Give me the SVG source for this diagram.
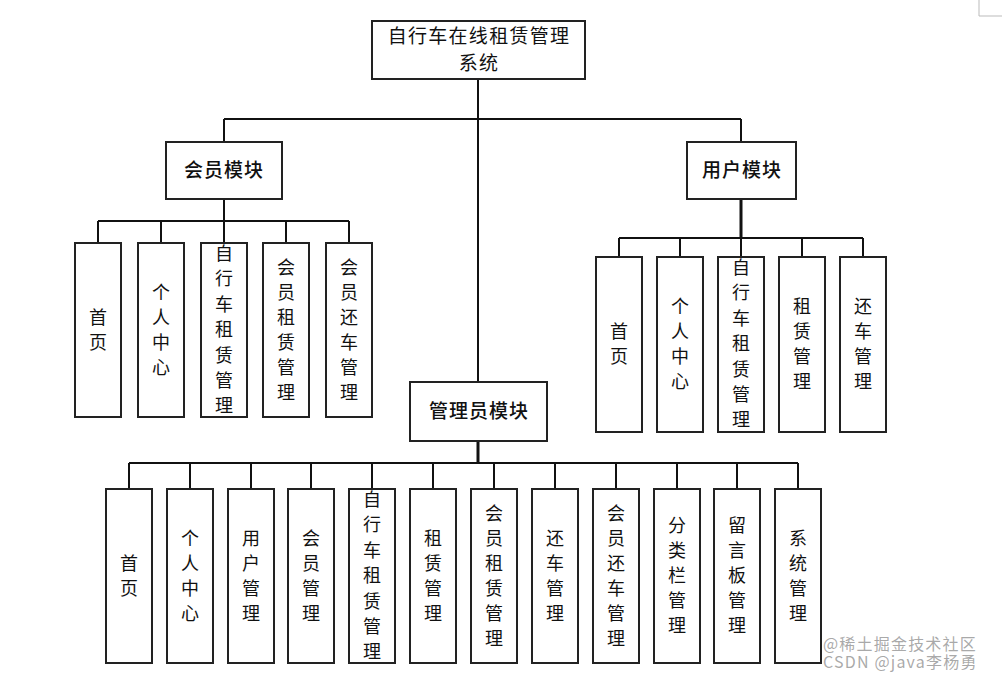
<svg xmlns="http://www.w3.org/2000/svg" width="1002" height="678" viewBox="0 0 1002 678">
<style>
.box{fill:#fff;stroke:#222;stroke-width:2}
.ln{fill:none;stroke:#111;stroke-width:2}
.thk{stroke-width:3}
text{font-family:"Noto Sans CJK SC","Noto Sans",sans-serif;fill:#111}
.t1{font-size:19px;letter-spacing:1.3px;text-anchor:middle}
.tm{font-size:19px;letter-spacing:1px;text-anchor:middle;font-weight:500}
.tc{font-size:18px;text-anchor:middle}
.wm{font-size:16px;letter-spacing:1.2px;fill:#9a9a9a;fill-opacity:0.85}
</style>
<rect width="1002" height="678" fill="#fff"/>
<path d="M979 0V16H1002" fill="none" stroke="#bbb" stroke-width="1"/>
<g id="connectors">
<path class="ln" d="M478 79V382"/>
<path class="ln" d="M224 119H741M224 119V142M741 119V142"/>
<path class="ln" d="M224 199V221M98 221H349M98 221V243M161 221V243M224 221V243M286 221V243M349 221V243"/>
<path class="ln thk" d="M741 199V238"/>
<path class="ln" d="M619 238H863M619 238V257M680 238V257M741 238V257M802 238V257M863 238V257"/>
<path class="ln thk" d="M478 441V463"/>
<path class="ln" d="M129 463H798M129 463V489M190 463V489M251 463V489M311 463V489M372 463V489M433 463V489M494 463V489M555 463V489M616 463V489M677 463V489M737 463V489M798 463V489"/>
</g>
<g id="root"><rect class="box" x="372" y="21" width="213" height="58"/>
<text class="t1" x="479" y="43">自行车在线租赁管理</text><text class="t1" x="479" y="70">系统</text></g>
<g id="member"><rect class="box" x="166" y="142" width="116" height="57"/><text class="tm" x="224" y="177">会员模块</text></g>
<g id="user"><rect class="box" x="687" y="142" width="109" height="57"/><text class="tm" x="742" y="177">用户模块</text></g>
<g id="admin"><rect class="box" x="410" y="382" width="137" height="59"/><text class="tm" x="479" y="418">管理员模块</text></g>

<g id="m1"><rect class="box" x="75" y="243" width="46" height="174"/><text class="tc" x="98"><tspan x="98" y="324">首</tspan><tspan x="98" y="349">页</tspan></text></g>
<g id="m2"><rect class="box" x="138" y="243" width="46" height="174"/><text class="tc"><tspan x="161" y="299">个</tspan><tspan x="161" y="324">人</tspan><tspan x="161" y="349">中</tspan><tspan x="161" y="374">心</tspan></text></g>
<g id="m3"><rect class="box" x="201" y="243" width="46" height="174"/><text class="tc"><tspan x="224" y="260">自</tspan><tspan x="224" y="285">行</tspan><tspan x="224" y="311">车</tspan><tspan x="224" y="336">租</tspan><tspan x="224" y="362">赁</tspan><tspan x="224" y="387">管</tspan><tspan x="224" y="412">理</tspan></text></g>
<g id="m4"><rect class="box" x="263" y="243" width="46" height="174"/><text class="tc"><tspan x="286" y="274">会</tspan><tspan x="286" y="299">员</tspan><tspan x="286" y="324">租</tspan><tspan x="286" y="349">赁</tspan><tspan x="286" y="374">管</tspan><tspan x="286" y="399">理</tspan></text></g>
<g id="m5"><rect class="box" x="326" y="243" width="46" height="174"/><text class="tc"><tspan x="349" y="274">会</tspan><tspan x="349" y="299">员</tspan><tspan x="349" y="324">还</tspan><tspan x="349" y="349">车</tspan><tspan x="349" y="374">管</tspan><tspan x="349" y="399">理</tspan></text></g>

<g id="u1"><rect class="box" x="596" y="257" width="46" height="175"/><text class="tc"><tspan x="619" y="338">首</tspan><tspan x="619" y="363">页</tspan></text></g>
<g id="u2"><rect class="box" x="657" y="257" width="46" height="175"/><text class="tc"><tspan x="680" y="313">个</tspan><tspan x="680" y="338">人</tspan><tspan x="680" y="363">中</tspan><tspan x="680" y="388">心</tspan></text></g>
<g id="u3"><rect class="box" x="718" y="257" width="46" height="175"/><text class="tc"><tspan x="741" y="274">自</tspan><tspan x="741" y="299">行</tspan><tspan x="741" y="325">车</tspan><tspan x="741" y="350">租</tspan><tspan x="741" y="376">赁</tspan><tspan x="741" y="401">管</tspan><tspan x="741" y="426">理</tspan></text></g>
<g id="u4"><rect class="box" x="779" y="257" width="46" height="175"/><text class="tc"><tspan x="802" y="313">租</tspan><tspan x="802" y="338">赁</tspan><tspan x="802" y="363">管</tspan><tspan x="802" y="388">理</tspan></text></g>
<g id="u5"><rect class="box" x="840" y="257" width="46" height="175"/><text class="tc"><tspan x="863" y="313">还</tspan><tspan x="863" y="338">车</tspan><tspan x="863" y="363">管</tspan><tspan x="863" y="388">理</tspan></text></g>

<g id="a1"><rect class="box" x="106" y="489" width="46" height="174"/><text class="tc"><tspan x="129" y="570">首</tspan><tspan x="129" y="595">页</tspan></text></g>
<g id="a2"><rect class="box" x="167" y="489" width="46" height="174"/><text class="tc"><tspan x="190" y="545">个</tspan><tspan x="190" y="570">人</tspan><tspan x="190" y="595">中</tspan><tspan x="190" y="620">心</tspan></text></g>
<g id="a3"><rect class="box" x="228" y="489" width="46" height="174"/><text class="tc"><tspan x="251" y="545">用</tspan><tspan x="251" y="570">户</tspan><tspan x="251" y="595">管</tspan><tspan x="251" y="620">理</tspan></text></g>
<g id="a4"><rect class="box" x="288" y="489" width="46" height="174"/><text class="tc"><tspan x="311" y="545">会</tspan><tspan x="311" y="570">员</tspan><tspan x="311" y="595">管</tspan><tspan x="311" y="620">理</tspan></text></g>
<g id="a5"><rect class="box" x="349" y="489" width="46" height="174"/><text class="tc"><tspan x="372" y="506">自</tspan><tspan x="372" y="531">行</tspan><tspan x="372" y="557">车</tspan><tspan x="372" y="582">租</tspan><tspan x="372" y="608">赁</tspan><tspan x="372" y="633">管</tspan><tspan x="372" y="658">理</tspan></text></g>
<g id="a6"><rect class="box" x="410" y="489" width="46" height="174"/><text class="tc"><tspan x="433" y="545">租</tspan><tspan x="433" y="570">赁</tspan><tspan x="433" y="595">管</tspan><tspan x="433" y="620">理</tspan></text></g>
<g id="a7"><rect class="box" x="471" y="489" width="46" height="174"/><text class="tc"><tspan x="494" y="520">会</tspan><tspan x="494" y="545">员</tspan><tspan x="494" y="570">租</tspan><tspan x="494" y="595">赁</tspan><tspan x="494" y="620">管</tspan><tspan x="494" y="645">理</tspan></text></g>
<g id="a8"><rect class="box" x="532" y="489" width="46" height="174"/><text class="tc"><tspan x="555" y="545">还</tspan><tspan x="555" y="570">车</tspan><tspan x="555" y="595">管</tspan><tspan x="555" y="620">理</tspan></text></g>
<g id="a9"><rect class="box" x="593" y="489" width="46" height="174"/><text class="tc"><tspan x="616" y="520">会</tspan><tspan x="616" y="545">员</tspan><tspan x="616" y="570">还</tspan><tspan x="616" y="595">车</tspan><tspan x="616" y="620">管</tspan><tspan x="616" y="645">理</tspan></text></g>
<g id="a10"><rect class="box" x="654" y="489" width="46" height="174"/><text class="tc"><tspan x="677" y="532">分</tspan><tspan x="677" y="557">类</tspan><tspan x="677" y="582">栏</tspan><tspan x="677" y="607">管</tspan><tspan x="677" y="632">理</tspan></text></g>
<g id="a11"><rect class="box" x="714" y="489" width="46" height="174"/><text class="tc"><tspan x="737" y="532">留</tspan><tspan x="737" y="557">言</tspan><tspan x="737" y="582">板</tspan><tspan x="737" y="607">管</tspan><tspan x="737" y="632">理</tspan></text></g>
<g id="a12"><rect class="box" x="775" y="489" width="46" height="174"/><text class="tc"><tspan x="798" y="545">系</tspan><tspan x="798" y="570">统</tspan><tspan x="798" y="595">管</tspan><tspan x="798" y="620">理</tspan></text></g>

<g id="watermark"><text class="wm" x="823" y="650">@稀土掘金技术社区</text><text class="wm" x="823" y="668">CSDN @java李杨勇</text></g>
</svg>
